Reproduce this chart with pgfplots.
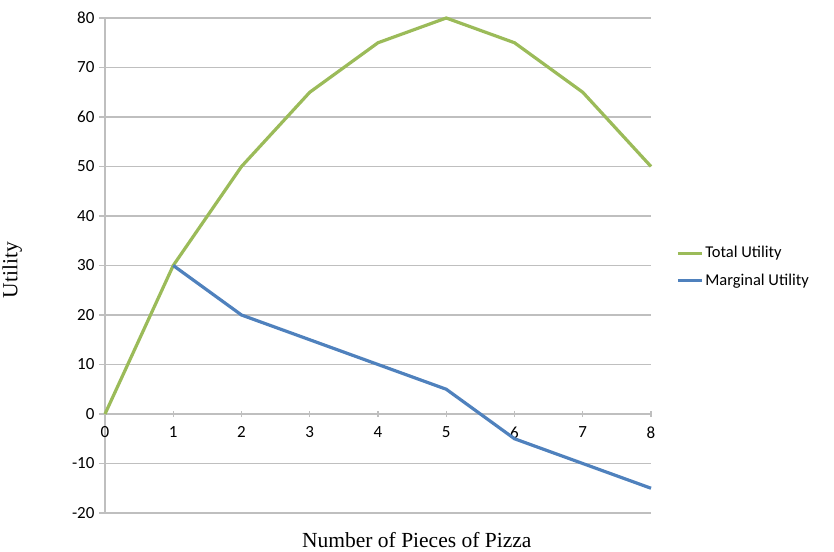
\documentclass[border=0pt]{standalone}
\usepackage{fontspec}
\setmainfont{Carlito}
\newfontfamily\labelfont{Liberation Serif}
\usepackage{pgfplots}
\pgfplotsset{compat=1.18}
\definecolor{tugreen}{HTML}{9BBB59}
\definecolor{mublue}{HTML}{4F81BD}
\definecolor{gridgrey}{HTML}{BFBFBF}

\begin{document}
\begin{tikzpicture}
\useasboundingbox (-105pt,-38pt) rectangle (729pt,513pt);
\begin{axis}[
    at={(0,0)}, anchor=south west,
    scale only axis,
    width=546pt, height=495pt,
    xmin=0, xmax=8,
    ymin=-20, ymax=80,
    xtick={0,1,...,8},
    ytick={-20,-10,...,80},
    axis x line=middle,
    axis y line=left,
    hide obscured x ticks=false,
    axis line style={gridgrey, line width=1.2pt, -},
    ymajorgrids=true,
    grid style={gridgrey, line width=1.2pt},
    major tick length=6pt,
    tick style={gridgrey, line width=1.2pt},
    xtick align=center,
    ytick align=outside,
    tick label style={font=\fontsize{17}{20}\selectfont},
    /pgf/number format/assume math mode=true,
    xticklabel style={yshift=-6pt},
    yticklabel style={xshift=-1pt},
    xlabel={Number of Pieces of Pizza},
    ylabel={Utility},
    xlabel style={font=\labelfont\fontsize{21.5}{24}\selectfont, at={(axis description cs:0.571,-0.054)}, anchor=center},
    ylabel style={font=\labelfont\fontsize{21.5}{24}\selectfont, at={(axis description cs:-0.170,0.491)}, anchor=center, rotate=0},
    legend style={draw=none, fill=none, at={(axis description cs:1.046,0.497)}, anchor=west,
        font=\fontsize{16.5}{19}\selectfont, row sep=11pt, inner sep=0pt},
    legend cell align=left,
    legend image code/.code={\draw[#1, line width=3pt] (0pt,0pt) -- (24pt,0pt);},
    clip=false,
]
\addplot[tugreen, line width=3.2pt, line join=round] coordinates {
    (0,0)(1,30)(2,50)(3,65)(4,75)(5,80)(6,75)(7,65)(8,50)
};
\addlegendentry{Total Utility}
\addplot[mublue, line width=3.2pt, line join=round] coordinates {
    (1,30)(2,20)(3,15)(4,10)(5,5)(6,-5)(7,-10)(8,-15)
};
\addlegendentry{Marginal Utility}
\end{axis}
\end{tikzpicture}
\end{document}
